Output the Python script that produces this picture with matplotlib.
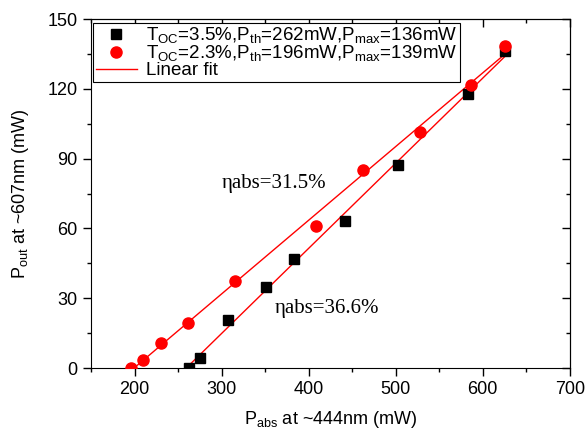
import numpy as np
import matplotlib.pyplot as plt
from matplotlib.ticker import MultipleLocator

# Toc = 3.5 %
p_abs_35 = [262, 275, 307, 351, 383, 442, 503, 583, 626]
p_out_35 = [0, 4.3, 20.6, 34.8, 46.8, 63.2, 87.4, 117.9, 136.3]
# Toc = 2.3 %
p_abs_23 = [196, 210, 230, 261, 315, 408, 462, 528, 586, 626]
p_out_23 = [0, 3.4, 10.7, 19.3, 37.2, 61.2, 85.2, 101.6, 121.8, 138.5]

lbl_35 = r'T$_{\mathregular{OC}}$=3.5%,P$_{\mathregular{th}}$=262mW,P$_{\mathregular{max}}$=136mW'
lbl_23 = r'T$_{\mathregular{OC}}$=2.3%,P$_{\mathregular{th}}$=196mW,P$_{\mathregular{max}}$=139mW'

plt.rcParams['font.family'] = ['Liberation Sans', 'DejaVu Sans']
plt.rcParams['mathtext.fontset'] = 'custom'
plt.rcParams['mathtext.rm'] = 'Liberation Sans'

fig = plt.figure(figsize=(5.85, 4.33), dpi=100)
ax = fig.add_axes([0.1556, 0.150, 0.8184, 0.806])

ax.plot(p_abs_35, p_out_35, 's', color='black', markersize=7, label=lbl_35, zorder=3)
ax.plot(p_abs_23, p_out_23, 'o', color='red', markersize=8, label=lbl_23, zorder=3)

# linear fits
k1, b1 = np.polyfit(p_abs_35, p_out_35, 1)
xx1 = np.array([min(p_abs_35), max(p_abs_35)])
ax.plot(xx1, k1 * xx1 + b1, color='red', lw=1, label='Linear fit', zorder=2)
k2, b2 = np.polyfit(p_abs_23, p_out_23, 1)
xx2 = np.array([min(p_abs_23), max(p_abs_23)])
ax.plot(xx2, k2 * xx2 + b2, color='red', lw=1, zorder=2)

ax.text(300, 77.5, 'ηabs=31.5%', fontsize=15, family='Liberation Serif', va='baseline')
ax.text(361, 23.5, 'ηabs=36.6%', fontsize=15, family='Liberation Serif', va='baseline')

ax.set_xlim(150, 700)
ax.set_ylim(0, 150)
ax.xaxis.set_major_locator(MultipleLocator(100))
ax.xaxis.set_minor_locator(MultipleLocator(50))
ax.yaxis.set_major_locator(MultipleLocator(30))
ax.yaxis.set_minor_locator(MultipleLocator(15))
ax.tick_params(which='both', direction='out', labelsize=13, width=1)
ax.tick_params(which='major', length=6)
ax.tick_params(which='minor', length=3)

# mirrored ticks on top/right, pointing inside
top = ax.secondary_xaxis('top')
top.xaxis.set_major_locator(MultipleLocator(100))
top.xaxis.set_minor_locator(MultipleLocator(50))
top.tick_params(which='both', direction='in', labeltop=False, width=1)
top.tick_params(which='major', length=6)
top.tick_params(which='minor', length=3)
right = ax.secondary_yaxis('right')
right.yaxis.set_major_locator(MultipleLocator(30))
right.yaxis.set_minor_locator(MultipleLocator(15))
right.tick_params(which='both', direction='in', labelright=False, width=1)
right.tick_params(which='major', length=6)
right.tick_params(which='minor', length=3)

ax.set_xlabel(r'P$_{\mathregular{abs}}$ at ~444nm (mW)', fontsize=13, labelpad=8)
ax.set_ylabel(r'P$_{\mathregular{out}}$ at ~607nm (mW)', fontsize=13, labelpad=12)

leg = ax.legend(loc='upper left', bbox_to_anchor=(0.0, 0.995), fontsize=13.5, frameon=True,
                fancybox=False, edgecolor='black', framealpha=1, borderaxespad=0.1,
                labelspacing=-0.1, handlelength=2.2, handletextpad=0.5, borderpad=0.15)
leg.get_frame().set_linewidth(0.8)

fig.savefig('out.png', dpi=100)
